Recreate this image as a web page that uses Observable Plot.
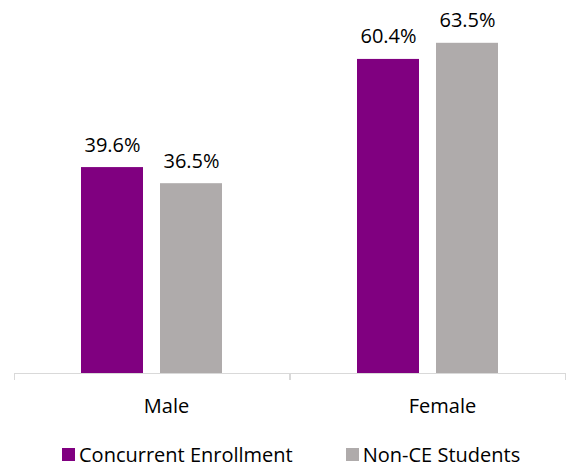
<!DOCTYPE html>
<html>
<head>
<meta charset="utf-8">
<script src="https://cdn.jsdelivr.net/npm/d3@7"></script>
<script src="https://cdn.jsdelivr.net/npm/@observablehq/plot@0.6"></script>
<style>
  html, body { margin: 0; padding: 0; background: #ffffff; }
  body { font-family: "Open Sans", sans-serif; width: 569px; }
  #chart svg { display: block; }
  .leg-swatches { margin: 0 0 0 62px !important; font-family: "Open Sans", sans-serif !important; font-size: 20px !important; color: #000; min-height: 33px !important; flex-wrap: nowrap !important; white-space: nowrap; }
  .leg-swatch > svg { margin-right: 4px !important; }
  .leg-swatches-wrap .leg-swatch { margin-right: 53px !important; }
  .leg-swatches-wrap .leg-swatch:last-child { margin-right: 0 !important; }
</style>
</head>
<body>
<div id="chart"></div>
<script>
// ---- data ----
const groups = ["Male", "Female"];
const series = ["Concurrent Enrollment", "Non-CE Students"];
const ceValues = [39.6, 60.4];
const nonCeValues = [36.5, 63.5];
const colors = ["#800080", "#AFABAB"];

const data = groups.flatMap((g, i) => [
  {group: g, series: series[0], value: ceValues[i]},
  {group: g, series: series[1], value: nonCeValues[i]}
]);

// small category-boundary ticks below the baseline, drawn at each facet's edges
const edgeTicks = (index, scales, values, dimensions) => {
  const {marginLeft, marginRight, width} = dimensions;
  const y0 = scales.y(0);
  const g = d3.create("svg:g").attr("stroke", "#d9d9d9").attr("stroke-width", 1);
  for (const x of [marginLeft + 0.5, width - marginRight - 0.5]) {
    g.append("line").attr("x1", x).attr("x2", x).attr("y1", y0).attr("y2", y0 + 7);
  }
  return g.node();
};

const chart = Plot.plot({
  width: 569,
  height: 438,
  marginLeft: 14,
  marginRight: 3,
  marginTop: 9,
  marginBottom: 65,
  style: {fontFamily: "Open Sans, sans-serif", fontSize: "20px", color: "#000", background: "#fff"},
  fx: {domain: groups, padding: 0, axis: null},
  x: {domain: series, paddingInner: 0.215, paddingOuter: 0.854, axis: null},
  y: {domain: [0, 70], axis: null},
  color: {domain: series, range: colors},
  marks: [
    Plot.barY(data, {fx: "group", x: "series", y: "value", fill: "series"}),
    Plot.ruleY([0], {stroke: "#d9d9d9", strokeWidth: 1}),
    edgeTicks,
    Plot.text(data, {
      fx: "group", x: "series", y: "value",
      text: d => d.value.toFixed(1) + "%",
      lineAnchor: "bottom", dy: -16, fontSize: 20, fill: "#000"
    }),
    Plot.axisFx({anchor: "bottom", tickSize: 0, tickPadding: 25, label: null, fontSize: 20, dx: 14, fill: "#000"})
  ]
});

const legend = Plot.legend({
  color: {domain: series, range: colors},
  legend: "swatches",
  swatchSize: 13,
  className: "leg"
});

const root = document.getElementById("chart");
root.appendChild(chart);
root.appendChild(legend);
</script>
</body>
</html>
